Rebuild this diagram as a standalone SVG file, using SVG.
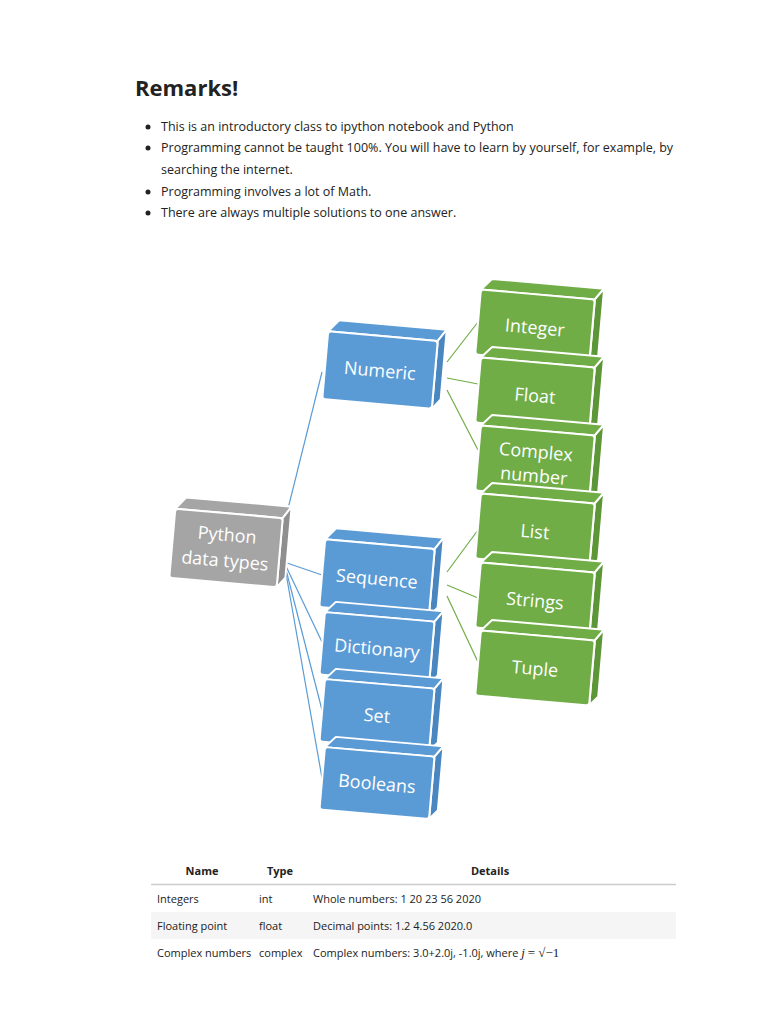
<svg xmlns="http://www.w3.org/2000/svg" width="768" height="1024" viewBox="0 0 768 1024">
<style>
.t{font-family:"Open Sans","Noto Sans",sans-serif;fill:#222}
.b{font-size:12.5px}
.tb{font-size:11px}
.h{font-weight:bold}
.lbl{font-family:"Open Sans","Noto Sans",sans-serif;fill:#fff;font-size:18px;text-anchor:middle}
.cb{stroke:#5b9bd5;stroke-width:1.2;fill:none}
.cg{stroke:#70ad47;stroke-width:1.2;fill:none}
</style>
<rect width="768" height="1024" fill="#fff"/>
<text class="t" x="135" y="96" font-size="22" font-weight="bold">Remarks!</text>
<g class="t b">
<circle cx="148" cy="127" r="2.5" fill="#222"/><text x="161" y="131">This is an introductory class to ipython notebook and Python</text>
<circle cx="148" cy="148" r="2.5" fill="#222"/><text x="161" y="152">Programming cannot be taught 100%. You will have to learn by yourself, for example, by</text>
<text x="161" y="174">searching the internet.</text>
<circle cx="148" cy="192" r="2.5" fill="#222"/><text x="161" y="196">Programming involves a lot of Math.</text>
<circle cx="148" cy="213" r="2.5" fill="#222"/><text x="161" y="217">There are always multiple solutions to one answer.</text>
</g>
<defs>
<g id="bb" stroke="#fff" stroke-width="2" stroke-linejoin="round">
<polygon fill="#5b9bd5" points="-55,-34 -45,-46 63,-46 55,-34"/>
<polygon fill="#4a86c0" points="55,-34 63,-46 63,24 55,34"/>
<rect fill="#5b9bd5" x="-55" y="-34" width="110" height="68" rx="3"/>
</g>
<g id="bg" stroke="#fff" stroke-width="2" stroke-linejoin="round">
<polygon fill="#70ad47" points="-55,-34 -45,-46 63,-46 55,-34"/>
<polygon fill="#5c9637" points="55,-34 63,-46 63,24 55,34"/>
<rect fill="#70ad47" x="-55" y="-34" width="110" height="68" rx="3"/>
</g>
<g id="bk" stroke="#fff" stroke-width="2" stroke-linejoin="round">
<polygon fill="#a5a5a5" points="-55,-34 -45,-46 63,-46 55,-34"/>
<polygon fill="#8f8f8f" points="55,-34 63,-46 63,24 55,34"/>
<rect fill="#a5a5a5" x="-55" y="-34" width="110" height="68" rx="3"/>
</g>
</defs>
<g id="connectors">
<line class="cb" x1="284" y1="525" x2="322" y2="372"/>
<line class="cb" x1="284" y1="562" x2="322" y2="575"/>
<line class="cb" x1="284" y1="562" x2="322" y2="642"/>
<line class="cb" x1="284" y1="562" x2="322" y2="710"/>
<line class="cb" x1="284" y1="562" x2="322" y2="778"/>
<line class="cg" x1="447" y1="362" x2="478" y2="322"/>
<line class="cg" x1="447" y1="378" x2="478" y2="384"/>
<line class="cg" x1="447" y1="390" x2="478" y2="450"/>
<line class="cg" x1="447" y1="572" x2="478" y2="530"/>
<line class="cg" x1="447" y1="585" x2="478" y2="598"/>
<line class="cg" x1="447" y1="596" x2="478" y2="662"/>
</g>
<g id="python" transform="translate(226,548) rotate(5)"><use href="#bk" transform="scale(0.98,1.02)"/><text class="lbl" y="-7">Python</text><text class="lbl" y="19">data types</text></g>
<g id="numeric" transform="translate(380,370) rotate(5)"><use href="#bb"/><text class="lbl" y="7">Numeric</text></g>
<g id="sequence" transform="translate(377,578) rotate(5)"><use href="#bb"/><text class="lbl" y="7">Sequence</text></g>
<g id="dictionary" transform="translate(377,648) rotate(5)"><use href="#bb" transform="scale(1,0.92)"/><text class="lbl" y="7">Dictionary</text></g>
<g id="set" transform="translate(377,715) rotate(5)"><use href="#bb" transform="scale(1,0.92)"/><text class="lbl" y="7">Set</text></g>
<g id="booleans" transform="translate(377,783) rotate(5)"><use href="#bb" transform="scale(1,0.92)"/><text class="lbl" y="7">Booleans</text></g>
<g id="integer" transform="translate(535,327) rotate(5)"><use href="#bg" transform="scale(1.04,0.96)"/><text class="lbl" y="7">Integer</text></g>
<g id="float" transform="translate(535,395) rotate(5)"><use href="#bg" transform="scale(1.04,0.96)"/><text class="lbl" y="7">Float</text></g>
<g id="complex" transform="translate(535,463) rotate(5)"><use href="#bg" transform="scale(1.04,0.96)"/><text class="lbl" y="-5">Complex</text><text class="lbl" y="19">number</text></g>
<g id="list" transform="translate(535,531) rotate(5)"><use href="#bg" transform="scale(1.04,0.96)"/><text class="lbl" y="7">List</text></g>
<g id="strings" transform="translate(535,600) rotate(5)"><use href="#bg" transform="scale(1.04,0.96)"/><text class="lbl" y="7">Strings</text></g>
<g id="tuple" transform="translate(535,668) rotate(5)"><use href="#bg" transform="scale(1.04,0.96)"/><text class="lbl" y="7">Tuple</text></g>
<g id="table" class="t tb">
<rect x="151" y="912" width="525" height="27" fill="#f5f5f5"/>
<line x1="151" y1="884.5" x2="676" y2="884.5" stroke="#ccc" stroke-width="1.5"/>
<text class="h" x="202" y="875" text-anchor="middle">Name</text>
<text class="h" x="280" y="875" text-anchor="middle">Type</text>
<text class="h" x="490" y="875" text-anchor="middle">Details</text>
<text x="157" y="903">Integers</text><text x="259" y="903">int</text><text x="313" y="903">Whole numbers: 1 20 23 56 2020</text>
<text x="157" y="930">Floating point</text><text x="259" y="930">float</text><text x="313" y="930">Decimal points: 1.2 4.56 2020.0</text>
<text x="157" y="957">Complex numbers</text><text x="259" y="957">complex</text><text x="313" y="957">Complex numbers: 3.0+2.0j, -1.0j, where <tspan font-family="Liberation Serif,serif" font-style="italic" font-size="13">j</tspan> <tspan font-family="Liberation Serif,serif" font-size="13">= √−1</tspan></text>
</g>
</svg>
